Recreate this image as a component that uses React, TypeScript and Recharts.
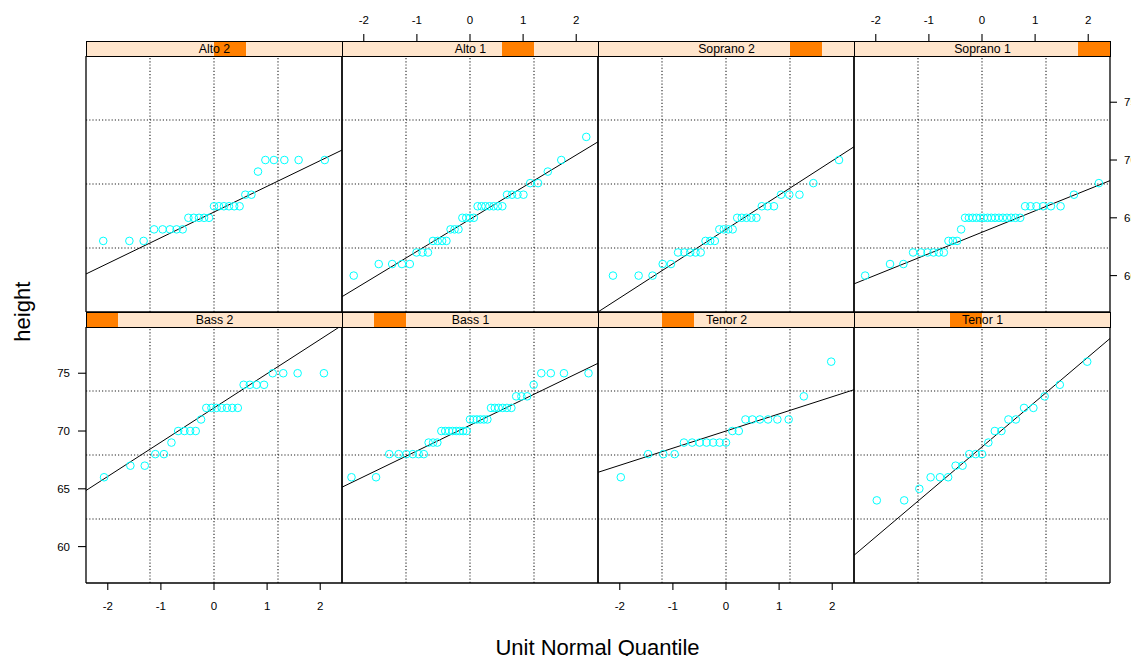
import React from "react";
import { ScatterChart, Scatter, XAxis, YAxis, ReferenceLine } from "recharts";

// singer heights (inches), sorted, one list per voice part
const voiceParts = ["Bass 2", "Bass 1", "Tenor 2", "Tenor 1", "Alto 2", "Alto 1", "Soprano 2", "Soprano 1"];

const bass2 = [66, 67, 67, 68, 68, 69, 70, 70, 70, 70, 71, 72, 72, 72, 72, 72, 72, 72, 74, 74, 74, 74, 75, 75, 75, 75];
const bass1 = [66, 66, 68, 68, 68, 68, 68, 68, 69, 69, 69, 70, 70, 70, 70, 70, 70, 70, 70, 71, 71, 71, 71, 71, 71, 72, 72, 72, 72, 72, 72, 73, 73, 73, 74, 75, 75, 75, 75];
const tenor2 = [66, 68, 68, 68, 69, 69, 69, 69, 69, 69, 69, 70, 70, 71, 71, 71, 71, 71, 71, 73, 76];
const tenor1 = [64, 64, 65, 66, 66, 66, 67, 67, 68, 68, 68, 69, 70, 70, 71, 71, 72, 72, 73, 74, 76];
const alto2 = [63, 63, 63, 64, 64, 64, 64, 64, 65, 65, 65, 65, 65, 66, 66, 66, 66, 66, 66, 67, 67, 69, 70, 70, 70, 70, 70];
const alto1 = [60, 61, 61, 61, 61, 62, 62, 62, 63, 63, 63, 63, 64, 64, 64, 65, 65, 65, 65, 66, 66, 66, 66, 66, 66, 66, 67, 67, 67, 67, 68, 68, 69, 70, 72];
const soprano2 = [60, 60, 60, 61, 61, 62, 62, 62, 62, 62, 63, 63, 63, 64, 64, 64, 64, 65, 65, 65, 65, 65, 66, 66, 66, 67, 67, 67, 68, 70];
const soprano1 = [60, 61, 61, 62, 62, 62, 62, 62, 62, 63, 63, 63, 64, 65, 65, 65, 65, 65, 65, 65, 65, 65, 65, 65, 65, 65, 65, 65, 66, 66, 66, 66, 66, 66, 67, 68];

const heightsByPart = [bass2, bass1, tenor2, tenor1, alto2, alto1, soprano2, soprano1];

const xTicks = [-2, -1, 0, 1, 2];
const yTicks = [60, 65, 70, 75];
const xDomain: [number, number] = [-2.41, 2.41];
const yDomain: [number, number] = [56.85, 79.0];

const FONT = "'Liberation Sans', Arial, Helvetica, sans-serif";
const PANEL = 256;
const PAD = 50;
const colLeft = [86, 342, 598, 854];
const rowTop = [56, 327]; // top row, bottom row

// inverse normal cdf (Acklam)
function qnorm(p: number): number {
  const a = [-39.69683028665376, 220.9460984245205, -275.9285104469687, 138.357751867269, -30.66479806614716, 2.506628277459239];
  const b = [-54.47609879822406, 161.5858368580409, -155.6989798598866, 66.80131188771972, -13.28068155288572];
  const c = [-0.007784894002430293, -0.3223964580411365, -2.400758277161838, -2.549732539343734, 4.374664141464968, 2.938163982698783];
  const d = [0.007784695709041462, 0.3224671290700398, 2.445134137142996, 3.754408661907416];
  const pl = 0.02425;
  if (p < pl) {
    const q = Math.sqrt(-2 * Math.log(p));
    return (((((c[0] * q + c[1]) * q + c[2]) * q + c[3]) * q + c[4]) * q + c[5]) / ((((d[0] * q + d[1]) * q + d[2]) * q + d[3]) * q + 1);
  }
  if (p > 1 - pl) {
    const q = Math.sqrt(-2 * Math.log(1 - p));
    return -(((((c[0] * q + c[1]) * q + c[2]) * q + c[3]) * q + c[4]) * q + c[5]) / ((((d[0] * q + d[1]) * q + d[2]) * q + d[3]) * q + 1);
  }
  const q = p - 0.5;
  const r = q * q;
  return ((((((a[0] * r + a[1]) * r + a[2]) * r + a[3]) * r + a[4]) * r + a[5]) * q) / (((((b[0] * r + b[1]) * r + b[2]) * r + b[3]) * r + b[4]) * r + 1);
}

// quantile with plotting positions (k - 0.5) / n
function quant(s: number[], p: number) {
  const n = s.length;
  const h = n * p + 0.5;
  const lo = Math.floor(h);
  if (lo < 1) return s[0];
  if (lo >= n) return s[n - 1];
  return s[lo - 1] + (h - lo) * (s[lo] - s[lo - 1]);
}

const dot = (props: any) => (
  <circle cx={props.cx} cy={props.cy} r={3.8} fill="none" stroke="#00FFFF" strokeWidth={1} />
);

const tickFont = { fontSize: 11.5, fill: "#000", fontFamily: FONT };
const blackLine = { stroke: "#000", strokeWidth: 1.3 };
const tickStroke = { stroke: "#000", strokeWidth: 1.1 };

function Panel({ level }: { level: number }) {
  const heights = heightsByPart[level];
  const n = heights.length;
  const row = level < 4 ? 1 : 0;
  const col = level % 4;
  const pts = heights.map((h, i) => ({ x: qnorm((i + 0.5) / n), y: h }));

  // reference line through the quartiles
  const slope = (quant(heights, 0.75) - quant(heights, 0.25)) / (qnorm(0.75) - qnorm(0.25));
  const icpt = quant(heights, 0.25) - qnorm(0.25) * slope;
  const seg = [
    { x: xDomain[0], y: icpt + slope * xDomain[0] },
    { x: xDomain[1], y: icpt + slope * xDomain[1] },
  ];

  const gx = [1, 2, 3].map((k) => xDomain[0] + (k * (xDomain[1] - xDomain[0])) / 4);
  const gy = [1, 2, 3].map((k) => yDomain[0] + (k * (yDomain[1] - yDomain[0])) / 4);

  const isTop = row === 0;
  const isBottom = row === 1;
  const isLeft = col === 0;
  const isRight = col === 3;

  return (
    <div style={{ position: "absolute", left: colLeft[col] - PAD, top: rowTop[row] - PAD }}>
      <ScatterChart width={PANEL + 2 * PAD} height={PANEL + 2 * PAD} margin={{ top: 0, right: 0, bottom: 0, left: 0 }}>
        <XAxis
          xAxisId="b"
          orientation="bottom"
          type="number"
          dataKey="x"
          domain={xDomain}
          allowDataOverflow
          ticks={xTicks}
          interval={0}
          height={PAD}
          axisLine={blackLine}
          tickLine={isBottom ? tickStroke : false}
          tick={isBottom && col % 2 === 0 ? tickFont : false}
          tickSize={7}
          tickMargin={12}
        />
        <XAxis
          xAxisId="t"
          orientation="top"
          type="number"
          dataKey="x"
          domain={xDomain}
          allowDataOverflow
          ticks={xTicks}
          interval={0}
          height={PAD}
          axisLine={blackLine}
          tickLine={isTop ? tickStroke : false}
          tick={isTop && col % 2 === 1 ? tickFont : false}
          tickSize={22}
          tickMargin={10.5}
        />
        <YAxis
          yAxisId="l"
          orientation="left"
          type="number"
          dataKey="y"
          domain={yDomain}
          allowDataOverflow
          ticks={yTicks}
          interval={0}
          width={PAD}
          axisLine={blackLine}
          tickLine={isLeft ? tickStroke : false}
          tick={isLeft && isBottom ? tickFont : false}
          tickSize={8}
          tickMargin={8}
        />
        <YAxis
          yAxisId="r"
          orientation="right"
          type="number"
          dataKey="y"
          domain={yDomain}
          allowDataOverflow
          ticks={yTicks}
          interval={0}
          width={PAD}
          axisLine={blackLine}
          tickLine={isRight ? tickStroke : false}
          tick={isRight && isTop ? tickFont : false}
          tickSize={7}
          tickMargin={7}
        />
        {gx.map((v) => (
          <ReferenceLine key={"gx" + v} xAxisId="b" yAxisId="l" x={v} stroke="#222" strokeWidth={1.1} strokeDasharray="1.2 2" />
        ))}
        {gy.map((v) => (
          <ReferenceLine key={"gy" + v} xAxisId="b" yAxisId="l" y={v} stroke="#222" strokeWidth={1.1} strokeDasharray="1.2 2" />
        ))}
        <ReferenceLine xAxisId="b" yAxisId="l" segment={seg} stroke="#000" strokeWidth={1} ifOverflow="hidden" />
        <Scatter data={pts} xAxisId="b" yAxisId="l" dataKey="y" shape={dot} isAnimationActive={false} />
      </ScatterChart>
    </div>
  );
}

function Strip({ level }: { level: number }) {
  const row = level < 4 ? 1 : 0;
  const col = level % 4;
  return (
    <div
      style={{
        position: "absolute",
        left: colLeft[col],
        top: rowTop[row] - 15.5,
        width: PANEL + 1,
        height: 16,
        boxSizing: "border-box",
        border: "1px solid #000",
        background: "#FFE5CC",
        overflow: "hidden",
      }}
    >
      <div style={{ position: "absolute", left: level * 32 - 1, top: 0, width: 32, height: 14, background: "#FF7F00" }} />
      <div
        style={{
          position: "absolute",
          left: 0,
          right: 0,
          top: 0,
          height: 14,
          lineHeight: "14px",
          textAlign: "center",
          fontSize: 12.3,
          color: "#000",
        }}
      >
        {voiceParts[level]}
      </div>
    </div>
  );
}

export default function App() {
  return (
    <div
      style={{
        position: "absolute",
        left: 0,
        top: 0,
        width: 1131,
        height: 656,
        overflow: "hidden",
        background: "#fff",
        fontFamily: FONT,
      }}
    >
      {voiceParts.map((_, i) => (
        <Panel key={i} level={i} />
      ))}
      {voiceParts.map((_, i) => (
        <Strip key={"s" + i} level={i} />
      ))}
      <svg width={1131} height={656} style={{ position: "absolute", left: 0, top: 0, pointerEvents: "none" }}>
        <text x={597.5} y={655} textAnchor="middle" fontSize={22} fontFamily={FONT} fill="#000">
          Unit Normal Quantile
        </text>
        <text transform="translate(29.5,311.7) rotate(-90)" textAnchor="middle" fontSize={22} fontFamily={FONT} fill="#000">
          height
        </text>
      </svg>
    </div>
  );
}
